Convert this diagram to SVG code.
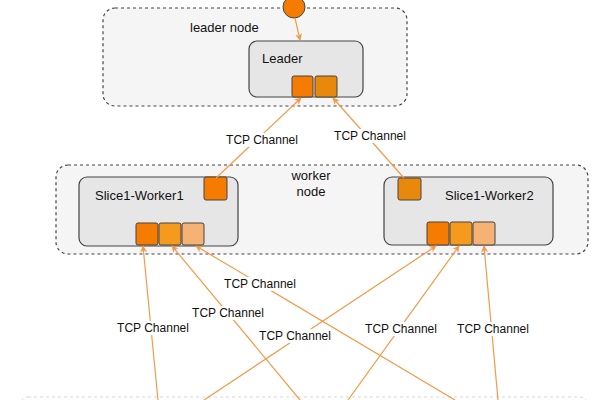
<svg xmlns="http://www.w3.org/2000/svg" width="600" height="400" viewBox="0 0 600 400">
<style>
.cont{fill:#f5f5f5;stroke:#444;stroke-width:1.2;stroke-dasharray:3 3}
.node{fill:#e6e6e6;stroke:#444;stroke-width:1.2}
.port{stroke:#444;stroke-width:1}
.p1{fill:#f57c00}.p2{fill:#f59a1c}.p3{fill:#f6b274}.pd{fill:#e8890c}
.t{font-family:"Liberation Sans",Arial,sans-serif;fill:#111}
.nt{font-size:13px}
.lt{font-size:12px;text-anchor:middle}
.e{stroke:#f29a48;stroke-width:1.2;fill:none;marker-end:url(#ah)}
.lb{fill:#fff}
</style>
<defs>
<marker id="ah" viewBox="0 0 10 10" refX="9" refY="5" markerWidth="7" markerHeight="7" orient="auto" markerUnits="userSpaceOnUse">
<path d="M0,0 L10,5 L0,10 L3,5 Z" fill="#f29a48"/>
</marker>
</defs>
<rect x="0" y="0" width="600" height="400" fill="#fff"/>
<rect x="20" y="397" width="568" height="40" rx="8" fill="none" stroke="#d8d8d8" stroke-dasharray="3 3"/>
<g id="leader-node">
<rect class="cont" x="103" y="8" width="304" height="98" rx="12"/>
<text class="t nt" x="190" y="32">leader node</text>
</g>
<g id="worker-node">
<rect class="cont" x="56" y="165" width="532" height="89" rx="12"/>
<text class="t nt" x="311" y="180" text-anchor="middle">worker</text>
<text class="t nt" x="311" y="196" text-anchor="middle">node</text>
</g>
<g id="source">
<circle cx="294" cy="7" r="11" fill="#f57c00" stroke="#444" stroke-width="1"/>
</g>
<g id="leader">
<rect class="node" x="249" y="41" width="114" height="56" rx="8"/>
<text class="t nt" x="262" y="63">Leader</text>
<rect class="port p1" x="292" y="76" width="21" height="21" rx="2"/>
<rect class="port pd" x="315" y="76" width="22" height="21" rx="2"/>
</g>
<g id="worker1">
<rect class="node" x="79" y="177" width="159" height="69" rx="8"/>
<text class="t nt" x="95" y="200">Slice1-Worker1</text>
<rect class="port p1" x="204" y="177" width="23" height="23" rx="2"/>
<rect class="port p1" x="136" y="223" width="22" height="22" rx="2"/>
<rect class="port p2" x="159" y="223" width="22" height="22" rx="2"/>
<rect class="port p3" x="182" y="223" width="22" height="22" rx="2"/>
</g>
<g id="worker2">
<rect class="node" x="384" y="177" width="169" height="68" rx="8"/>
<text class="t nt" x="445" y="200">Slice1-Worker2</text>
<rect class="port pd" x="398" y="178" width="23" height="22" rx="2"/>
<rect class="port p1" x="427" y="222" width="22" height="23" rx="2"/>
<rect class="port p2" x="450" y="222" width="22" height="23" rx="2"/>
<rect class="port p3" x="473" y="222" width="22" height="23" rx="2"/>
</g>
<g id="connectors">
<path class="e" d="M295,18 L300,40"/>
<path class="e" d="M216,178 L301,98"/>
<path class="e" d="M404,178 L333,98"/>
<path class="e" d="M158,400 L143,246"/>
<path class="e" d="M300,400 L172,246"/>
<path class="e" d="M455,400 L196,246"/>
<path class="e" d="M204,400 L436,246"/>
<path class="e" d="M348,400 L459,246"/>
<path class="e" d="M498,400 L484,246"/>
<g>
<rect class="lb" x="224" y="133" width="76" height="14"/>
<text class="t lt" x="262" y="144">TCP Channel</text>
<rect class="lb" x="332" y="129" width="76" height="14"/>
<text class="t lt" x="370" y="140">TCP Channel</text>
<rect class="lb" x="115" y="321" width="76" height="14"/>
<text class="t lt" x="153" y="332">TCP Channel</text>
<rect class="lb" x="190" y="306" width="76" height="14"/>
<text class="t lt" x="228" y="317">TCP Channel</text>
<rect class="lb" x="222" y="277" width="76" height="14"/>
<text class="t lt" x="260" y="288">TCP Channel</text>
<rect class="lb" x="257" y="329" width="76" height="14"/>
<text class="t lt" x="295" y="340">TCP Channel</text>
<rect class="lb" x="363" y="322" width="76" height="14"/>
<text class="t lt" x="401" y="333">TCP Channel</text>
<rect class="lb" x="455" y="322" width="76" height="14"/>
<text class="t lt" x="493" y="333">TCP Channel</text>
</g>
</g>
</svg>
